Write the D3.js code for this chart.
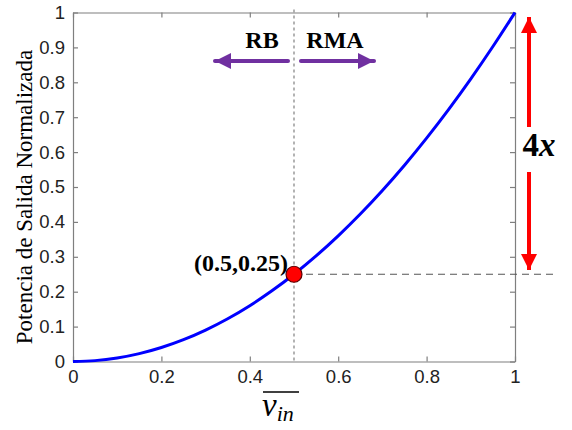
<!DOCTYPE html>
<html>
<head>
<meta charset="utf-8">
<script src="https://d3js.org/d3.v7.min.js"></script>
<style>
  body, html { margin: 0; padding: 0; background: #fff; }
  svg { display: block; }
  .tick text { font-family: "Liberation Sans", Arial, sans-serif; font-size: 18.5px; fill: #222; }
  .serif { font-family: "Liberation Serif", "Times New Roman", serif; }
</style>
</head>
<body>
<svg width="572" height="430"></svg>
<script>
// curve
const vin = [0, 0.05, 0.1, 0.15, 0.2, 0.25, 0.3, 0.35, 0.4, 0.45, 0.5, 0.55, 0.6, 0.65, 0.7, 0.75, 0.8, 0.85, 0.9, 0.95, 1];
const power = [0, 0.0025, 0.01, 0.0225, 0.04, 0.0625, 0.09, 0.1225, 0.16, 0.2025, 0.25, 0.3025, 0.36, 0.4225, 0.49, 0.5625, 0.64, 0.7225, 0.81, 0.9025, 1];
const xTicks = [0, 0.2, 0.4, 0.6, 0.8, 1];
const yTicks = [0, 0.1, 0.2, 0.3, 0.4, 0.5, 0.6, 0.7, 0.8, 0.9, 1];
const marker = [0.5, 0.25];

const svg = d3.select("svg");
const mLeft = 73, mRight = 515, mTop = 12.5, mBottom = 361.5;

const x = d3.scaleLinear().domain([0, 1]).range([mLeft, mRight]);
const y = d3.scaleLinear().domain([0, 1]).range([mBottom, mTop]);
const fmt = d => d === 0 ? "0" : d === 1 ? "1" : d3.format(".1f")(d);
const axisColor = "#7f7f7f";

// box + inward ticks
function styleAxis(g) {
  g.select(".domain").attr("stroke", axisColor).attr("stroke-width", 1.2);
  g.selectAll(".tick line").attr("stroke", axisColor).attr("stroke-width", 1.2);
}
svg.append("g").attr("transform", `translate(0,${mBottom})`)
  .call(d3.axisBottom(x).tickValues(xTicks).tickFormat(fmt).tickSizeInner(-5).tickSizeOuter(0).tickPadding(8))
  .call(styleAxis);
svg.append("g").attr("transform", `translate(0,${mTop})`)
  .call(d3.axisTop(x).tickValues(xTicks).tickFormat("").tickSizeInner(-5).tickSizeOuter(0))
  .call(styleAxis);
svg.append("g").attr("transform", `translate(${mLeft},0)`)
  .call(d3.axisLeft(y).tickValues(yTicks).tickFormat(fmt).tickSizeInner(-5).tickSizeOuter(0).tickPadding(8))
  .call(styleAxis);
svg.append("g").attr("transform", `translate(${mRight},0)`)
  .call(d3.axisRight(y).tickValues(yTicks).tickFormat("").tickSizeInner(-5).tickSizeOuter(0))
  .call(styleAxis);

// guide lines
svg.append("line")
  .attr("x1", x(marker[0])).attr("x2", x(marker[0]))
  .attr("y1", y(1) - 3).attr("y2", y(0))
  .attr("stroke", "#8a8a8a").attr("stroke-width", 1.3).attr("stroke-dasharray", "3,3");
svg.append("line")
  .attr("x1", x(marker[0])).attr("x2", 553)
  .attr("y1", y(marker[1])).attr("y2", y(marker[1]))
  .attr("stroke", "#555").attr("stroke-width", 1.2).attr("stroke-dasharray", "7,5");

// curve
svg.append("path")
  .datum(vin.map((v, i) => [v, power[i]]))
  .attr("fill", "none").attr("stroke", "#0000ff").attr("stroke-width", 3)
  .attr("d", d3.line().x(d => x(d[0])).y(d => y(d[1])).curve(d3.curveMonotoneX));

// marker point
svg.append("circle")
  .attr("cx", x(marker[0])).attr("cy", y(marker[1])).attr("r", 8)
  .attr("fill", "#ff0000").attr("stroke", "#5a0000").attr("stroke-width", 1.2);
svg.append("text").attr("class", "serif")
  .attr("x", x(marker[0]) - 6).attr("y", 271)
  .attr("text-anchor", "end").attr("font-size", 24).attr("font-weight", "bold")
  .text("(0.5,0.25)");

// arrow heads
const defs = svg.append("defs");
function head(id, color) {
  defs.append("marker").attr("id", id)
    .attr("viewBox", "0 0 10 10").attr("refX", 10).attr("refY", 5)
    .attr("markerUnits", "userSpaceOnUse")
    .attr("markerWidth", 22).attr("markerHeight", 16).attr("orient", "auto")
    .append("path").attr("d", "M0,0 L10,5 L0,10 Z").attr("fill", color);
}
head("purple", "#7030a0");
head("red", "#ff0000");

// RB / RMA
const purple = "#7030a0";
svg.append("line").attr("x1", 288).attr("y1", 61).attr("x2", 215).attr("y2", 61)
  .attr("stroke", purple).attr("stroke-width", 4).attr("stroke-linecap", "round")
  .attr("marker-end", "url(#purple)");
svg.append("line").attr("x1", 301).attr("y1", 61).attr("x2", 374).attr("y2", 61)
  .attr("stroke", purple).attr("stroke-width", 4).attr("stroke-linecap", "round")
  .attr("marker-end", "url(#purple)");
svg.append("text").attr("class", "serif").attr("x", 262).attr("y", 48)
  .attr("text-anchor", "middle").attr("font-size", 24).attr("font-weight", "bold").text("RB");
svg.append("text").attr("class", "serif").attr("x", 335).attr("y", 48)
  .attr("text-anchor", "middle").attr("font-size", 24).attr("font-weight", "bold").text("RMA");

// 4x arrows
svg.append("line").attr("x1", 529).attr("y1", 127).attr("x2", 529).attr("y2", 17)
  .attr("stroke", "#ff0000").attr("stroke-width", 4).attr("marker-end", "url(#red)");
svg.append("line").attr("x1", 529).attr("y1", 172).attr("x2", 529).attr("y2", 270)
  .attr("stroke", "#ff0000").attr("stroke-width", 4).attr("marker-end", "url(#red)");
const fx = svg.append("text").attr("class", "serif").attr("x", 539).attr("y", 156)
  .attr("text-anchor", "middle").attr("font-size", 33).attr("font-weight", "bold");
fx.append("tspan").text("4");
fx.append("tspan").attr("font-style", "italic").text("x");

// axis labels
svg.append("text").attr("class", "serif")
  .attr("transform", "translate(32,197) rotate(-90)")
  .attr("text-anchor", "middle").attr("font-size", 23).text("Potencia de Salida Normalizada");

const xl = svg.append("text").attr("class", "serif").attr("x", 262).attr("y", 416)
  .attr("font-size", 33).attr("font-style", "italic");
xl.append("tspan").text("v");
xl.append("tspan").attr("font-size", 22).attr("dy", 5).text("in");
svg.append("line").attr("x1", 263).attr("x2", 299).attr("y1", 392).attr("y2", 392)
  .attr("stroke", "#000").attr("stroke-width", 1.3);
</script>
</body>
</html>
